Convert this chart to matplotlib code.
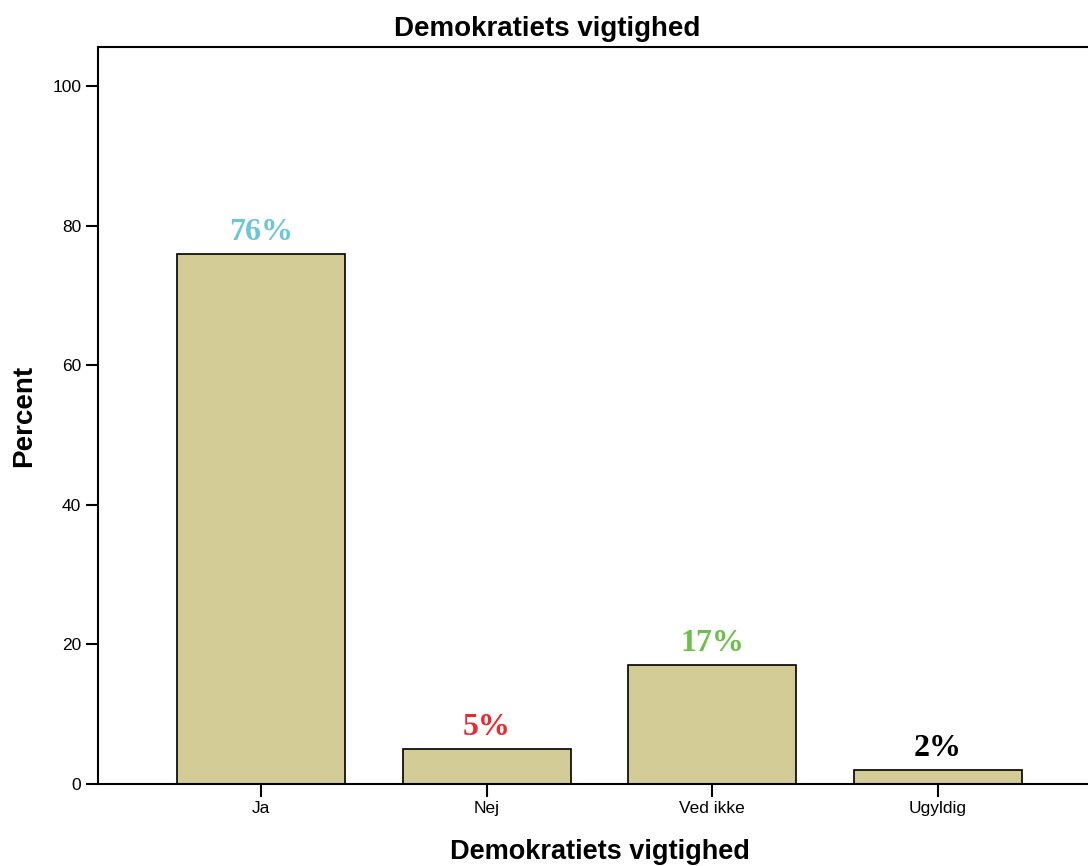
import matplotlib.pyplot as plt

categories = ['Ja', 'Nej', 'Ved ikke', 'Ugyldig']
percents = [76, 5, 17, 2]
label_colors = ['#6cc6da', '#ec2830', '#6cbf4a', '#000000']

plt.rcParams['font.family'] = ['Liberation Sans', 'DejaVu Sans']

fig = plt.figure(figsize=(10.88, 8.66), dpi=100)
ax = fig.add_axes([0.0901, 0.0947, 0.9099, 0.851])

x = list(range(len(categories)))
bars = ax.bar(x, percents, width=0.745, color='#d3cc96', edgecolor='black', linewidth=1.2)

# percentage labels above each bar
for xi, val, col in zip(x, percents, label_colors):
    ax.annotate(f'{val}%', (xi, val), xytext=(0, 5), textcoords='offset points',
                ha='center', va='bottom', color=col, fontsize=23,
                fontweight='bold', family='Liberation Serif')

ax.set_xlim(-0.723, 3.667)
ax.set_ylim(0, 105.6)
ax.set_yticks([0, 20, 40, 60, 80, 100])
ax.set_xticks(x)
ax.set_xticklabels(categories)

ax.spines['right'].set_visible(False)
for s in ['left', 'top', 'bottom']:
    ax.spines[s].set_linewidth(1.5)
ax.tick_params(axis='both', length=9, width=1.5, labelsize=12.5, pad=3)

ax.set_ylabel('Percent', fontsize=20, fontweight='bold', labelpad=11)
ax.set_xlabel('Demokratiets vigtighed', fontsize=19.5, fontweight='bold', labelpad=17)
ax.xaxis.label.set_x(0.507)
fig.suptitle('Demokratiets vigtighed', x=0.503, y=0.982, fontsize=20, fontweight='bold', va='top')

fig.savefig('out.png', dpi=100)
